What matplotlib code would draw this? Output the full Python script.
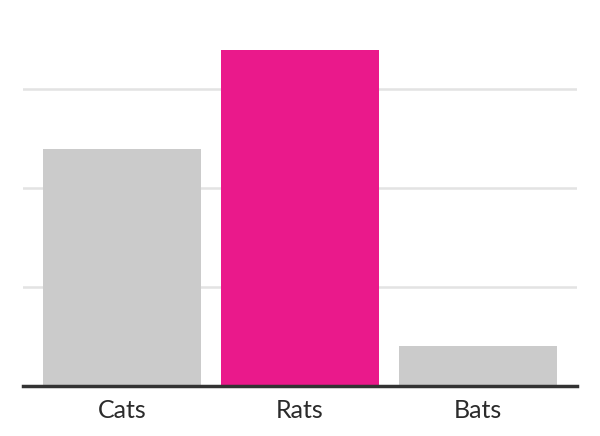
import matplotlib
matplotlib.use("Agg")
import matplotlib.pyplot as plt

animals = ["Cats", "Rats", "Bats"]
counts = [24, 34, 4]
colors = ["#cbcbcb", "#ea198b", "#cbcbcb"]
grid_ticks = [10, 20, 30]

fig = plt.figure(figsize=(6, 4.36), dpi=100)
ax = fig.add_axes([23 / 600, 50 / 436, 554 / 600, 356 / 436])

x = range(len(animals))
ax.bar(x, counts, width=0.888, color=colors, zorder=2)

ax.set_xlim(-0.556, 2.556)
ax.set_ylim(0, 36)
ax.set_yticks(grid_ticks)
ax.yaxis.grid(True, color="#e3e3e3", linewidth=1.8, zorder=0)
ax.tick_params(axis="y", left=False, labelleft=False)

ax.set_xticks(list(x))
ax.set_xticklabels(animals, fontsize=18, color="#2b2b2b", family="Lato")
ax.tick_params(axis="x", bottom=False, pad=6)

for side in ["top", "right", "left"]:
    ax.spines[side].set_visible(False)
ax.spines["bottom"].set_color("#333333")
ax.spines["bottom"].set_linewidth(2.5)
ax.spines["bottom"].set_zorder(3)

fig.savefig("out.png", dpi=100)
